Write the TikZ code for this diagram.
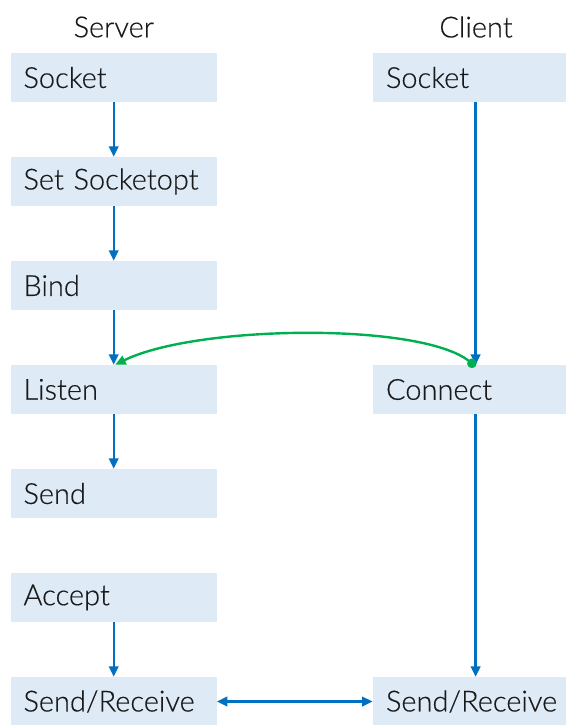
\documentclass[tikz,border=0pt]{standalone}
\usepackage{fontspec}
\setmainfont{Lato}[UprightFont=* Light, FakeBold=0.4]
\usetikzlibrary{arrows.meta}
\definecolor{boxfill}{HTML}{DEEAF6}
\definecolor{flowblue}{HTML}{0070C0}
\definecolor{linkgreen}{HTML}{00B050}
\definecolor{ink}{HTML}{1A1A1A}
\tikzset{
  lbox/.style={fill=boxfill, draw=none, minimum width=205.7pt, minimum height=49pt,
    text width=180.7pt, align=left, inner xsep=12.5pt, inner ysep=0pt,
    font=\fontsize{29}{32}\selectfont, text=ink},
  rbox/.style={lbox, minimum width=193.3pt, text width=166.7pt, inner xsep=13.3pt},
  head/.style={font=\fontsize{29}{32}\selectfont, text=ink, inner sep=0pt},
  tip/.tip={Triangle[length=10.5pt,width=9.5pt]},
  flow/.style={draw=flowblue, line width=2.4pt, -tip},
  both/.style={draw=flowblue, line width=2.4pt, tip-tip},
  link/.style={draw=linkgreen, line width=2.4pt, {Circle[length=9.5pt]}-tip},
}
\begin{document}
\begin{tikzpicture}[x=1pt,y=-1pt]
  \useasboundingbox (0,0) rectangle (566,725);

  % column titles
  \node[head] (srv) at (113.8,27) {Server};
  \node[head] (cli) at (476,27) {Client};

  % server side
  \node[lbox] (ssock)   at (113.85,77.5)  {Socket};
  \node[lbox] (sopt)    at (113.85,181.5) {Set Socketopt};
  \node[lbox] (sbind)   at (113.85,285.5) {Bind};
  \node[lbox] (slisten) at (113.85,389.5) {Listen};
  \node[lbox] (ssend)   at (113.85,493.5) {Send};
  \node[lbox] (saccept) at (113.85,597.5) {Accept};
  \node[lbox] (ssr)     at (113.85,701.5) {Send/Receive};

  % client side
  \node[rbox] (csock) at (469.35,77.5)  {Socket};
  \node[rbox] (cconn) at (469.35,389.5) {Connect};
  \node[rbox] (csr)   at (469.35,701.5) {Send/Receive};

  % x positions of the two flow lines
  \coordinate (sx) at (113.7,0);
  \coordinate (cx) at (475.6,0);

  % server flow
  \draw[flow] (ssock.south -| sx) -- (sopt.north -| sx);
  \draw[flow] (sopt.south -| sx) -- (sbind.north -| sx);
  \draw[flow] (sbind.south -| sx) -- (slisten.north -| sx);
  \draw[flow] (slisten.south -| sx) -- (ssend.north -| sx);
  \draw[flow] (saccept.south -| sx) -- (ssr.north -| sx);

  % client flow
  \draw[flow] (csock.south -| cx) -- (cconn.north -| cx);
  \draw[flow] (cconn.south -| cx) -- (csr.north -| cx);

  % data exchange
  \draw[both] (ssr.east) -- (csr.west);

  % connection request
  \draw[link] ([yshift=-1.5pt]cconn.north -| cx) .. controls (420,322) and (195,325) .. ([xshift=1.5pt]slisten.north -| sx);
\end{tikzpicture}
\end{document}
